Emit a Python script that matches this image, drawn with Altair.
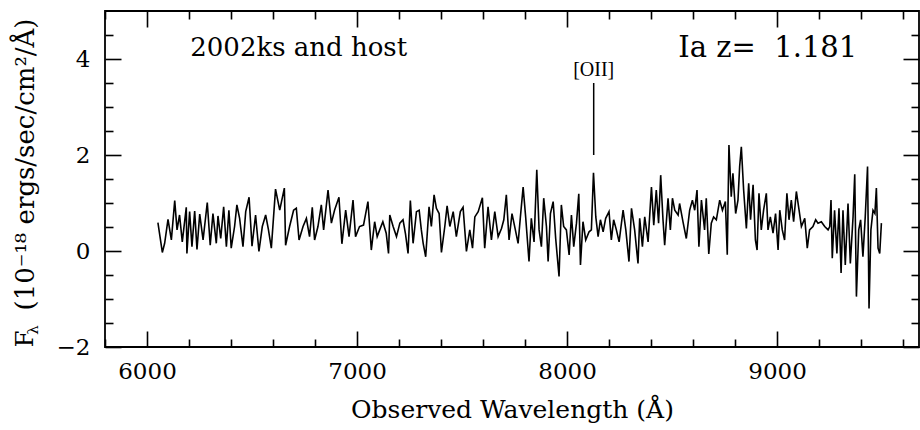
import altair as alt
import pandas as pd

# ---------------- data ----------------
wave = [6052, 6073, 6084, 6100, 6116, 6132, 6143, 6155, 6168, 6187, 6190, 6203, 6214, 6227, 6238,
        6251, 6267, 6287, 6301, 6314, 6330, 6338, 6351, 6365, 6378, 6390, 6401, 6417, 6428, 6441,
        6457, 6470, 6486, 6500, 6517, 6533, 6549, 6565, 6578, 6592, 6612, 6632, 6654, 6660, 6679,
        6698, 6711, 6724, 6743, 6759, 6774, 6787, 6798, 6814, 6830, 6841, 6862, 6878, 6893, 6914,
        6928, 6946, 6962, 6981, 6993, 7012, 7031, 7052, 7068, 7084, 7096, 7108, 7123, 7139, 7150,
        7156, 7172, 7188, 7204, 7219, 7231, 7243, 7254, 7267, 7283, 7296, 7306, 7315, 7327, 7343,
        7354, 7367, 7378, 7391, 7402, 7418, 7429, 7442, 7458, 7473, 7492, 7505, 7521, 7537, 7550,
        7561, 7577, 7597, 7608, 7624, 7640, 7656, 7672, 7688, 7699, 7711, 7724, 7738, 7754, 7767,
        7778, 7791, 7803, 7819, 7830, 7843, 7856, 7867, 7878, 7889, 7902, 7910, 7921, 7934, 7946,
        7962, 7973, 7984, 7997, 8010, 8021, 8032, 8045, 8056, 8064, 8076, 8089, 8105, 8116, 8126,
        8137, 8148, 8159, 8172, 8184, 8200, 8211, 8222, 8235, 8248, 8267, 8280, 8295, 8307, 8322,
        8338, 8346, 8359, 8370, 8386, 8402, 8413, 8425, 8436, 8446, 8457, 8465, 8481, 8492, 8502,
        8513, 8529, 8536, 8552, 8568, 8584, 8597, 8608, 8619, 8628, 8640, 8655, 8663, 8675, 8687,
        8698, 8711, 8727, 8740, 8754, 8763, 8771, 8782, 8790, 8803, 8814, 8822, 8830, 8841, 8854,
        8865, 8874, 8886, 8897, 8905, 8914, 8925, 8936, 8949, 8957, 8968, 8981, 8993, 9005, 9013,
        9025, 9036, 9047, 9057, 9068, 9079, 9092, 9105, 9116, 9132, 9144, 9155, 9171, 9184, 9195,
        9211, 9227, 9243, 9251, 9257, 9263, 9274, 9285, 9295, 9305, 9314, 9325, 9338, 9349, 9362,
        9370, 9378, 9389, 9398, 9409, 9420, 9431, 9438, 9447, 9457, 9466, 9473, 9481, 9489, 9497]

flux = [0.59, -0.03, 0.16, 0.66, 0.23, 1.05, 0.44, 0.75, 0.19, 0.91, -0.05, 0.82, 0.09, 0.83, 0.03,
        0.77, 0.23, 1.01, 0.12, 0.78, 0.16, 0.73, 0.26, 0.92, 0.09, 0.85, 0.06, 0.51, 0.96, 0.68,
        0.09, 0.82, 1.12, 0.10, 0.75, -0.01, 0.51, 0.75, 0.45, 0.06, 1.29, 0.85, 1.31, 0.12, 0.51,
        0.85, 0.89, 0.23, 0.51, 0.68, 0.30, 0.91, 0.23, 0.51, 0.96, 0.44, 1.27, 0.58, 0.85, 1.12,
        0.15, 0.85, 0.30, 1.06, 0.30, 0.51, 0.54, 1.03, 0.02, 0.61, 0.30, 0.44, 0.61, 0.37, -0.05,
        0.75, 0.51, 0.30, 0.58, 0.65, 0.35, -0.05, 1.05, 0.16, 0.82, 0.85, 0.45, 0.16, -0.12, 0.92,
        0.51, 1.17, 0.89, 0.78, -0.03, 0.51, 0.94, 0.51, 0.82, 0.30, 0.82, 0.91, -0.01, 0.44, 0.06,
        0.71, 0.82, 1.11, 0.06, 0.92, 0.23, 0.82, 0.30, 0.47, 0.65, 1.17, 0.23, 0.78, 0.44, 0.16,
        0.71, 1.33, 0.71, -0.22, 0.68, 0.19, 1.69, 0.44, 0.09, 1.10, 0.51, -0.22, 0.78, 1.03, 0.26,
        -0.53, 0.96, 0.51, 0.44, -0.08, 0.75, 0.09, 0.58, 1.19, -0.29, 0.61, 0.23, 0.40, 0.44, 1.63,
        0.71, 0.30, 0.65, 0.40, 0.68, 0.82, 0.23, 0.65, 0.44, 0.19, 0.85, 0.44, -0.22, 0.89, 0.44,
        -0.26, 0.68, 0.09, 0.71, 0.19, 1.33, 0.54, 1.27, 0.58, 1.58, 0.65, 0.12, 1.10, 0.44, 1.10,
        0.85, 0.75, 0.99, 0.61, 0.26, 0.85, 1.06, 0.85, 1.27, 0.09, 1.06, 0.44, 1.10, -0.06, 0.58,
        0.71, 0.65, 1.06, 0.85, 1.03, -0.08, 2.21, 1.13, 1.62, 0.78, 1.06, 1.76, 2.17, 1.27, 0.47,
        1.41, 0.65, 1.38, 0.23, 0.02, 1.20, 0.44, 0.85, 1.20, 0.44, 0.71, 0.37, 0.78, 0.02, 0.85,
        0.44, 0.23, 1.20, 0.65, 1.06, 0.61, 1.24, 0.85, 0.51, 0.68, 0.06, 0.44, 0.51, 0.65, 0.58,
        0.61, 0.51, 0.44, 0.51, 1.06, -0.15, 0.85, -0.05, 0.89, -0.46, 0.85, -0.29, 0.99, -0.26, 0.71,
        1.60, -0.95, 0.44, 0.65, -0.12, 0.71, 1.76, -1.20, 0.44, 0.85, 0.78, 1.31, 0.06, -0.05, 0.58]

x_major = [6000, 7000, 8000, 9000]
x_minor = [5800, 6200, 6400, 6600, 6800, 7200, 7400, 7600, 7800, 8200, 8400, 8600, 8800, 9200, 9400, 9600]
y_major = [-2, 0, 2, 4]
y_minor = [-1.5, -1, -0.5, 0.5, 1, 1.5, 2.5, 3, 3.5, 4.5]
x_domain = [5800, 9676]
y_domain = [-2, 5]

oii_wave = 8127
oii_bottom = 2.0
oii_top = 3.5
oii_label_y = 3.78

name_text = "2002ks and host"
name_pos = (6206, 4.06)
type_text = "Ia z=\u00a0\u00a01.181"
type_pos = (9382, 4.04)

FONT = "DejaVu Serif"

spec = pd.DataFrame({"wave": wave, "flux": flux})
one = pd.DataFrame({"k": [0]})

xs = alt.Scale(domain=x_domain, nice=False, zero=False)
ys = alt.Scale(domain=y_domain, nice=False, zero=False)


def tick_axis(orient, values, size):
    return alt.Axis(orient=orient, values=values, tickSize=size, offset=-size,
                    domain=False, grid=False, labels=False, title=None,
                    ticks=True, tickColor="black", tickWidth=1.6)


line = alt.Chart(spec).mark_line(color="black", strokeWidth=1.6).encode(
    x=alt.X("wave:Q", scale=xs, axis=alt.Axis(
        orient="bottom", values=x_major, format="d", ticks=False, domain=False, grid=False,
        labelFont=FONT, labelFontSize=23, labelColor="black", labelPadding=13,
        title="Observed Wavelength (Å)", titleFont=FONT, titleFontSize=25,
        titleFontWeight="normal", titleColor="black", titleBaseline="alphabetic", titleY=70)),
    y=alt.Y("flux:Q", scale=ys, axis=alt.Axis(
        orient="left", values=y_major, format="d", ticks=False, domain=False, grid=False,
        labelFont=FONT, labelFontSize=23, labelColor="black", labelPadding=15,
        title="(10⁻¹⁸ ergs/sec/cm²/Å)", titleFont=FONT, titleFontSize=26,
        titleFontWeight="normal", titleColor="black", titleBaseline="alphabetic",
        titleAngle=270, titleAlign="center", titleX=-72, titleY=153)),
)


def holder(xaxis, yaxis):
    return alt.Chart(spec).mark_line(opacity=0).encode(
        x=alt.X("wave:Q", scale=xs, axis=xaxis),
        y=alt.Y("flux:Q", scale=ys, axis=yaxis),
    )


h1 = holder(tick_axis("bottom", x_major, 16), tick_axis("left", y_major, 16))
h2 = holder(tick_axis("bottom", x_minor, 8), tick_axis("left", y_minor, 8))
h3 = holder(tick_axis("top", x_major, 16), tick_axis("right", y_major, 16))
h4 = holder(tick_axis("top", x_minor, 8), tick_axis("right", y_minor, 8))

t_name = alt.Chart(one).mark_text(text=name_text, font=FONT, fontSize=26, align="left",
                                  baseline="alphabetic", color="black").encode(
    x=alt.XDatum(name_pos[0], scale=xs, axis=None),
    y=alt.YDatum(name_pos[1], scale=ys, axis=None))

t_type = alt.Chart(one).mark_text(text=type_text, font=FONT, fontSize=29, align="right",
                                  baseline="alphabetic", color="black").encode(
    x=alt.XDatum(type_pos[0], scale=xs, axis=None),
    y=alt.YDatum(type_pos[1], scale=ys, axis=None))

oii_rule = alt.Chart(one).mark_rule(color="black", strokeWidth=1.5).encode(
    x=alt.XDatum(oii_wave, scale=xs, axis=None),
    y=alt.YDatum(oii_bottom, scale=ys, axis=None),
    y2=alt.Y2Datum(oii_top))

oii_text = alt.Chart(one).mark_text(text="[OII]", font="Liberation Serif", fontSize=20,
                                    align="center", baseline="middle", color="black").encode(
    x=alt.XDatum(oii_wave, scale=xs, axis=None),
    y=alt.YDatum(oii_label_y, scale=ys, axis=None))

f_text = alt.Chart(one).mark_text(text="F", font=FONT, fontSize=24, angle=270, align="center",
                                  baseline="alphabetic", color="black").encode(
    x=alt.value(-72), y=alt.value(328))
lam_text = alt.Chart(one).mark_text(text="λ", font=FONT, fontSize=15, angle=270, align="center",
                                    baseline="alphabetic", color="black").encode(
    x=alt.value(-67), y=alt.value(319))

chart = alt.layer(line, h1, h2, h3, h4, t_name, t_type, oii_rule, oii_text, f_text, lam_text).resolve_axis(
    x="independent", y="independent"
).properties(
    width=814, height=336,
    padding={"left": 105, "top": 11, "right": 1, "bottom": 83},
    autosize=alt.AutoSizeParams(type="none"),
    background="white",
).configure_view(stroke="black", strokeWidth=1.8)

chart.save("out.html", embed_options={"renderer": "svg", "actions": False})
